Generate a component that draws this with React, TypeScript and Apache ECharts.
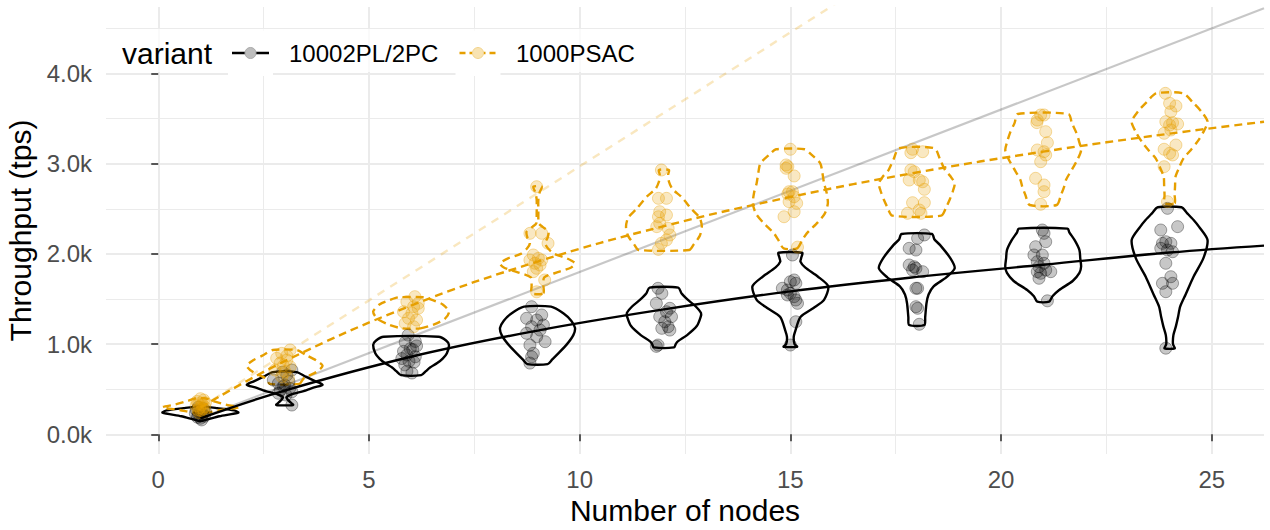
import React, { useEffect, useRef } from "react";
import * as echarts from "echarts";

const FONT = "'Liberation Sans', Arial, Helvetica, sans-serif";

const nodes = [1, 3, 6, 9, 12, 15, 18, 21, 24];
const variantNames = ["10002PL/2PC", "1000PSAC"];
const xTicks = [0, 5, 10, 15, 20, 25];
const yTicks = [0, 1000, 2000, 3000, 4000];

// fitted scalability curves
const fitX = [1, 3, 6, 9, 12, 15, 18, 21, 24, 26.24];
const fit2pl = [178, 485, 860, 1150, 1385, 1585, 1745, 1880, 2015, 2092];
const fitPsac = [297, 811, 1428, 1915, 2308, 2631, 2903, 3134, 3333, 3465];

// ideal linear scaling lines
const idealX = [1, 26.24];
const ideal2pl = [180, 4723];
const idealPsac = [297, 7793];

// jittered observations [nodes, tps]
const points2pl: number[][] = [
  [0.95, 300], [1.08, 285], [0.9, 270], [1.02, 262], [1.12, 250], [0.98, 240], [0.88, 232], [1.05, 222], [0.96, 210], [1.1, 200], [0.93, 190], [1.0, 178], [1.03, 160],
  [3.17, 713], [2.95, 690], [3.05, 657], [2.73, 602], [3.1, 585], [2.85, 565], [3.0, 547], [2.97, 530], [3.12, 510], [2.9, 490], [3.17, 472], [2.85, 455], [3.03, 436], [3.17, 325],
  [5.93, 1100], [6.1, 1030], [5.86, 1020], [6.13, 980], [5.98, 950], [5.82, 920], [6.04, 940], [5.9, 880], [6.1, 860], [5.78, 840], [5.95, 810], [6.07, 800], [5.85, 770], [5.9, 700], [6.02, 680],
  [8.86, 1415], [9.1, 1323], [8.74, 1286], [8.98, 1267], [9.14, 1212], [8.86, 1193], [9.06, 1156], [8.74, 1120], [8.98, 1082], [9.18, 1027], [8.82, 990], [8.9, 898], [8.86, 860], [8.82, 790],
  [11.86, 1619], [11.95, 1563], [11.82, 1452], [12.14, 1397], [12.06, 1359], [11.9, 1304], [12.18, 1304], [12.02, 1248], [12.1, 1193], [11.95, 1175], [12.14, 1156], [11.86, 990], [11.82, 975],
  [15.05, 1988], [15.09, 1711], [15.13, 1674], [15.0, 1692], [14.81, 1619], [14.93, 1600], [15.0, 1563], [15.13, 1489], [15.17, 1452], [15.09, 1526], [14.93, 1545], [15.13, 1248], [15.0, 990],
  [18.18, 2210], [18.02, 2173], [17.82, 2062], [17.98, 2043], [17.82, 1877], [17.94, 1858], [17.98, 1840], [17.9, 1821], [18.14, 1803], [17.98, 1619], [18.02, 1619], [17.98, 1415], [18.02, 1397], [18.06, 1220],
  [20.98, 2265], [21.02, 2228], [20.82, 2080], [21.06, 2135], [20.78, 1988], [20.98, 1988], [20.86, 1914], [21.02, 1896], [20.9, 1858], [21.06, 1821], [21.18, 1803], [20.86, 1803], [20.94, 1785], [20.9, 1730], [21.1, 1480],
  [23.95, 2505], [23.79, 2265], [24.19, 2302], [23.83, 2117], [24.03, 2117], [23.91, 2135], [23.79, 2062], [23.95, 2043], [24.07, 2024], [23.91, 1896], [24.03, 1747], [23.83, 1674], [24.07, 1674], [23.91, 1581], [23.91, 955],
];

const pointsPsac: number[][] = [
  [1.0, 395], [1.08, 380], [0.92, 365], [1.12, 350], [0.96, 340], [1.04, 330], [0.9, 318], [1.1, 305], [0.98, 295], [1.06, 285], [0.94, 272], [1.02, 260], [1.08, 248], [0.97, 240],
  [3.13, 935], [2.93, 898], [2.81, 843], [3.05, 824], [2.89, 787], [3.13, 749], [2.77, 713], [3.01, 694], [2.93, 639], [3.09, 621], [2.97, 760], [3.05, 870],
  [6.09, 1526], [5.9, 1470], [6.17, 1452], [6.06, 1415], [6.17, 1397], [5.82, 1359], [6.02, 1341], [5.94, 1286], [6.13, 1267], [5.86, 1230], [6.06, 1193],
  [8.98, 2745], [8.82, 2228], [9.1, 2228], [9.25, 2117], [8.9, 1988], [9.02, 1951], [8.82, 1932], [9.1, 1932], [8.94, 1896], [9.06, 1877], [8.98, 1840], [8.9, 1803], [9.17, 1711], [8.98, 1580],
  [11.94, 2930], [11.87, 2616], [12.06, 2616], [11.9, 2468], [11.87, 2412], [12.06, 2431], [11.9, 2339], [11.83, 2302], [12.1, 2284], [12.14, 2210], [12.06, 2154], [11.94, 2117], [11.87, 2050],
  [15.0, 3160], [14.9, 2986], [14.94, 2967], [14.9, 2949], [15.09, 2864], [14.97, 2690], [15.05, 2690], [14.94, 2664], [15.09, 2634], [14.97, 2579], [15.15, 2561], [15.09, 2468], [14.85, 2412], [15.17, 2075],
  [17.9, 3160], [18.14, 3133], [17.86, 3122], [17.86, 2930], [17.94, 2911], [18.06, 2819], [18.14, 2800], [18.18, 2716], [17.82, 2819], [17.9, 2568], [18.18, 2568], [18.06, 2487], [17.78, 2450], [18.1, 2450],
  [20.86, 3484], [20.94, 3540], [21.02, 3540], [20.85, 3455], [21.06, 3355], [21.1, 3233], [20.86, 3152], [21.02, 3133], [21.06, 3097], [20.94, 3022], [20.82, 2838], [21.02, 2764], [21.02, 2690], [20.94, 2550],
  [23.9, 3780], [24.0, 3670], [24.15, 3640], [24.03, 3576], [23.91, 3466], [24.07, 3455], [24.0, 3429], [24.19, 3440], [23.87, 3337], [24.03, 3374], [24.15, 3207], [23.87, 3160], [24.0, 3115], [24.07, 3097], [23.87, 2967], [23.95, 2579],
];

// violin outlines per node: [tps, half-width in node units]
const violins2pl: number[][][] = [
  [[150, 0.05], [200, 0.45], [240, 0.9], [265, 0.8], [290, 0.4], [310, 0.05]],
  [[325, 0.2], [350, 0.15], [380, 0.08], [410, 0.04], [440, 0.15], [480, 0.45], [520, 0.7], [550, 0.9], [590, 0.72], [640, 0.5], [690, 0.28]],
  [[657, 0.24], [700, 0.35], [740, 0.45], [790, 0.62], [840, 0.75], [900, 0.85], [990, 0.9], [1040, 0.83], [1082, 0.65]],
  [[779, 0.24], [830, 0.35], [900, 0.5], [1000, 0.7], [1100, 0.85], [1180, 0.89], [1260, 0.8], [1340, 0.62], [1415, 0.32]],
  [[964, 0.24], [1000, 0.28], [1030, 0.33], [1100, 0.55], [1200, 0.78], [1300, 0.87], [1345, 0.88], [1420, 0.75], [1490, 0.57], [1560, 0.42], [1626, 0.34]],
  [[971, 0.16], [1000, 0.1], [1080, 0.08], [1150, 0.12], [1300, 0.24], [1400, 0.55], [1490, 0.8], [1640, 0.9], [1750, 0.65], [1850, 0.35], [1914, 0.24], [1960, 0.26], [2013, 0.28]],
  [[1212, 0.18], [1300, 0.2], [1450, 0.23], [1550, 0.28], [1640, 0.4], [1740, 0.7], [1840, 0.9], [1950, 0.8], [2100, 0.55], [2160, 0.42], [2221, 0.36]],
  [[1470, 0.14], [1530, 0.22], [1600, 0.38], [1700, 0.7], [1790, 0.86], [1860, 0.9], [1950, 0.88], [2043, 0.86], [2150, 0.75], [2240, 0.62], [2280, 0.58]],
  [[953, 0.12], [1000, 0.08], [1100, 0.09], [1200, 0.15], [1300, 0.2], [1415, 0.25], [1550, 0.38], [1750, 0.57], [1950, 0.8], [2154, 0.9], [2300, 0.7], [2376, 0.57], [2450, 0.42], [2517, 0.28]],
];

const violinsPsac: number[][][] = [
  [[236, 0.1], [270, 0.5], [300, 0.9], [330, 0.6], [370, 0.3], [400, 0.1]],
  [[560, 0.35], [620, 0.45], [690, 0.75], [760, 0.9], [820, 0.75], [880, 0.5], [935, 0.28]],
  [[1175, 0.22], [1220, 0.55], [1280, 0.8], [1360, 0.9], [1440, 0.75], [1490, 0.5], [1519, 0.3]],
  [[1563, 0.14], [1650, 0.14], [1740, 0.16], [1800, 0.5], [1850, 0.8], [1896, 0.89], [1950, 0.7], [2000, 0.4], [2060, 0.25], [2120, 0.18], [2180, 0.24], [2246, 0.26], [2300, 0.12], [2339, 0.03], [2450, 0.02], [2600, 0.02], [2680, 0.05], [2745, 0.1]],
  [[2043, 0.6], [2100, 0.7], [2200, 0.85], [2300, 0.9], [2400, 0.85], [2500, 0.65], [2634, 0.41], [2720, 0.2], [2800, 0.12], [2880, 0.1], [2930, 0.12]],
  [[2062, 0.16], [2150, 0.28], [2228, 0.39], [2350, 0.65], [2450, 0.82], [2561, 0.89], [2680, 0.86], [2783, 0.8], [2900, 0.76], [3004, 0.71], [3100, 0.5], [3160, 0.34]],
  [[2424, 0.58], [2520, 0.7], [2600, 0.78], [2700, 0.86], [2783, 0.9], [2860, 0.8], [2930, 0.67], [3050, 0.55], [3171, 0.42]],
  [[2542, 0.32], [2650, 0.42], [2750, 0.5], [2820, 0.54], [2950, 0.7], [3050, 0.82], [3150, 0.9], [3250, 0.85], [3350, 0.78], [3450, 0.68], [3551, 0.6]],
  [[2561, 0.12], [2650, 0.12], [2760, 0.13], [2856, 0.14], [2950, 0.22], [3060, 0.33], [3150, 0.5], [3244, 0.66], [3350, 0.8], [3466, 0.9], [3580, 0.75], [3680, 0.55], [3780, 0.32]],
];

const BLACK = "#000000";
const ORANGE = "#E69F00";
const LW = 2.4;

function violinSeries(name: string, outlines: number[][][], color: string, dash: number[] | null) {
  return {
    name,
    type: "custom",
    coordinateSystem: "cartesian2d",
    z: 3,
    silent: true,
    encode: { x: 0, y: 1 },
    data: nodes.map((n, i) => [n, outlines[i][0][0], i]),
    renderItem: (params: any, api: any) => {
      const n = api.value(0);
      const i = api.value(2);
      const ol = outlines[i];
      const right = ol.map(([v, w]) => api.coord([n + w, v]));
      const left = ol.slice().reverse().map(([v, w]) => api.coord([n - w, v]));
      return {
        type: "polygon",
        shape: { points: right.concat(left), smooth: 0.25 },
        style: {
          fill: "none",
          stroke: color,
          lineWidth: LW,
          lineDash: dash || undefined,
        },
      };
    },
  };
}

function zip(xs: number[], ys: number[]) {
  return xs.map((x, i) => [x, ys[i]]);
}

export default function App() {
  const ref = useRef<HTMLDivElement>(null);
  useEffect(() => {
    const chart = echarts.init(ref.current!, null, { renderer: "svg" });
    const option: any = {
      animation: false,
      backgroundColor: "#ffffff",
      textStyle: { fontFamily: FONT },
      grid: { left: 106, right: 6, top: 7, bottom: 76, containLabel: false, outerBoundsMode: "none" },
      xAxis: {
        type: "value",
        min: -1.24,
        max: 26.24,
        name: "Number of nodes",
        nameLocation: "middle",
        nameGap: 41,
        nameTextStyle: { fontSize: 30, color: "#000", fontFamily: FONT },
        axisLine: { show: false },
        axisTick: { show: true, length: 7, lineStyle: { color: "#333333", width: 1.6 }, customValues: xTicks },
        axisLabel: { customValues: xTicks, color: "#4D4D4D", fontSize: 24, margin: 13, fontFamily: FONT },
        splitLine: { show: true, lineStyle: { color: "#EBEBEB", width: 2 } },
        minorTick: { show: false, splitNumber: 2 },
        minorSplitLine: { show: true, lineStyle: { color: "#EBEBEB", width: 1 } },
      },
      yAxis: {
        type: "value",
        min: -218,
        max: 4737,
        name: "Throughput (tps)",
        nameLocation: "middle",
        nameRotate: 90,
        nameGap: 70,
        nameTextStyle: { fontSize: 30, color: "#000", fontFamily: FONT },
        axisLine: { show: false },
        axisTick: { show: true, length: 7, lineStyle: { color: "#333333", width: 1.6 }, customValues: yTicks },
        axisLabel: {
          customValues: yTicks,
          color: "#4D4D4D",
          fontSize: 24,
          margin: 14,
          fontFamily: FONT,
          formatter: (v: number) => (v / 1000).toFixed(1) + "k",
        },
        splitLine: { show: true, lineStyle: { color: "#EBEBEB", width: 2 } },
        minorTick: { show: false, splitNumber: 2 },
        minorSplitLine: { show: true, lineStyle: { color: "#EBEBEB", width: 1 } },
      },
      series: [
        {
          name: "ideal " + variantNames[0],
          type: "line",
          z: 2,
          silent: true,
          symbol: "none",
          clip: true,
          data: zip(idealX, ideal2pl),
          lineStyle: { color: "rgba(0,0,0,0.22)", width: 2.2 },
        },
        {
          name: "ideal " + variantNames[1],
          type: "line",
          z: 2,
          silent: true,
          symbol: "none",
          clip: true,
          data: zip(idealX, idealPsac),
          lineStyle: { color: "rgba(230,159,0,0.25)", width: 2.4, type: [8, 7] },
        },
        violinSeries("violin " + variantNames[0], violins2pl, BLACK, null),
        violinSeries("violin " + variantNames[1], violinsPsac, ORANGE, [8, 5]),
        {
          name: variantNames[0],
          type: "scatter",
          z: 4,
          silent: true,
          symbolSize: 12,
          data: points2pl,
          itemStyle: { color: "rgba(0,0,0,0.22)", borderColor: "rgba(0,0,0,0.34)", borderWidth: 1, opacity: 1 },
        },
        {
          name: variantNames[1],
          type: "scatter",
          z: 4,
          silent: true,
          symbolSize: 12,
          data: pointsPsac,
          itemStyle: { color: "rgba(230,159,0,0.24)", borderColor: "rgba(230,159,0,0.36)", borderWidth: 1, opacity: 1 },
        },
        {
          name: "fit " + variantNames[0],
          type: "line",
          z: 5,
          silent: true,
          symbol: "none",
          smooth: 0.4,
          data: zip(fitX, fit2pl),
          lineStyle: { color: BLACK, width: LW },
        },
        {
          name: "fit " + variantNames[1],
          type: "line",
          z: 5,
          silent: true,
          symbol: "none",
          smooth: 0.4,
          data: zip(fitX, fitPsac),
          lineStyle: { color: ORANGE, width: LW, type: [8, 5] },
        },
      ],
      graphic: [
        { type: "rect", z: 100, shape: { x: 107, y: 29, width: 545, height: 43 }, style: { fill: "rgba(255,255,255,0.75)" } },
        { type: "rect", z: 101, shape: { x: 228, y: 31, width: 45, height: 45 }, style: { fill: "#ffffff" } },
        { type: "rect", z: 101, shape: { x: 455.5, y: 31, width: 45, height: 45 }, style: { fill: "#ffffff" } },
        { type: "line", z: 102, shape: { x1: 232, y1: 53, x2: 269, y2: 53 }, style: { stroke: BLACK, lineWidth: LW } },
        { type: "circle", z: 103, shape: { cx: 250.5, cy: 53, r: 5.5 }, style: { fill: "#BDBDBD", stroke: "#A8A8A8", lineWidth: 1 } },
        { type: "line", z: 102, shape: { x1: 459.5, y1: 53, x2: 496.5, y2: 53 }, style: { stroke: ORANGE, lineWidth: LW, lineDash: [6, 4] } },
        { type: "circle", z: 103, shape: { cx: 478, cy: 53, r: 5.5 }, style: { fill: "#F8E3B2", stroke: "#F3D48C", lineWidth: 1 } },
        { type: "text", z: 103, x: 122, y: 53, style: { text: "variant", fontSize: 30, fill: "#000", fontFamily: FONT, verticalAlign: "middle", align: "left" } },
        { type: "text", z: 103, x: 289, y: 53, style: { text: variantNames[0], fontSize: 24, fill: "#000", fontFamily: FONT, verticalAlign: "middle", align: "left" } },
        { type: "text", z: 103, x: 516, y: 53, style: { text: variantNames[1], fontSize: 24, fill: "#000", fontFamily: FONT, verticalAlign: "middle", align: "left" } },
      ],
    };
    chart.setOption(option);
    return () => chart.dispose();
  }, []);
  return (
    <div
      ref={ref}
      style={{ position: "fixed", left: 0, top: 0, width: 1270, height: 530, background: "#ffffff" }}
    />
  );
}
